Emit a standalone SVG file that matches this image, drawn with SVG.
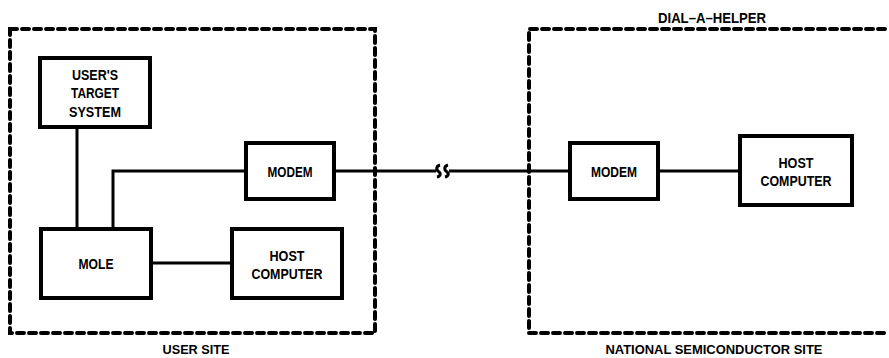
<svg xmlns="http://www.w3.org/2000/svg" width="889" height="358" viewBox="0 0 889 358">
<style>
.site{fill:none;stroke:#000;stroke-width:4;stroke-dasharray:7 5;stroke-linecap:round}
.box{fill:#fff;stroke:#000;stroke-width:4}
.ln{fill:none;stroke:#000;stroke-width:3}
text{font-family:"Liberation Sans",Arial,sans-serif;font-weight:bold;font-size:15px;fill:#000;text-anchor:middle}
.lbl{font-size:13px}
</style>
<rect width="889" height="358" fill="#fff"/>
<g id="user-site">
<path class="site" d="M10,29 H375 V333 H10 Z"/>
<text class="lbl" x="196" y="354" textLength="67" lengthAdjust="spacingAndGlyphs">USER SITE</text>
</g>
<g id="ns-site">
<path class="site" d="M885,29 H529 V333 H885"/>
<text x="712" y="23" textLength="108" lengthAdjust="spacingAndGlyphs">DIAL–A–HELPER</text>
<text class="lbl" x="714" y="354" textLength="217" lengthAdjust="spacingAndGlyphs">NATIONAL SEMICONDUCTOR SITE</text>
</g>
<g id="connectors">
<path class="ln" d="M77,127 V229"/>
<path class="ln" d="M113,229 V171 H246"/>
<path class="ln" d="M151,263 H232"/>
<path class="ln" d="M334,171 H436"/>
<path class="ln" d="M449,171 H570"/>
<path class="ln" d="M658,171 H740"/>
<path class="ln" d="M440,165 C436,166 436,170 438.5,171.5 C441,173 441,176 437,177"/>
<path class="ln" d="M448,165 C444,166 444,170 446.5,171.5 C449,173 449,176 445,177"/>
</g>
<g id="target">
<rect class="box" x="40" y="58" width="110" height="69"/>
<text x="95" y="80" textLength="46" lengthAdjust="spacingAndGlyphs">USER'S</text>
<text x="95" y="98" textLength="48" lengthAdjust="spacingAndGlyphs">TARGET</text>
<text x="95" y="117" textLength="52" lengthAdjust="spacingAndGlyphs">SYSTEM</text>
</g>
<g id="modem1">
<rect class="box" x="246" y="143" width="88" height="56"/>
<text x="290" y="177" textLength="45" lengthAdjust="spacingAndGlyphs">MODEM</text>
</g>
<g id="mole">
<rect class="box" x="41" y="229" width="110" height="69"/>
<text x="96" y="269" textLength="35" lengthAdjust="spacingAndGlyphs">MOLE</text>
</g>
<g id="host1">
<rect class="box" x="232" y="229" width="110" height="69"/>
<text x="287" y="261" textLength="35" lengthAdjust="spacingAndGlyphs">HOST</text>
<text x="287" y="279" textLength="71" lengthAdjust="spacingAndGlyphs">COMPUTER</text>
</g>
<g id="modem2">
<rect class="box" x="570" y="143" width="88" height="56"/>
<text x="614" y="177" textLength="46" lengthAdjust="spacingAndGlyphs">MODEM</text>
</g>
<g id="host2">
<rect class="box" x="740" y="136" width="112" height="69"/>
<text x="796" y="168" textLength="35" lengthAdjust="spacingAndGlyphs">HOST</text>
<text x="796" y="186" textLength="71" lengthAdjust="spacingAndGlyphs">COMPUTER</text>
</g>
</svg>
